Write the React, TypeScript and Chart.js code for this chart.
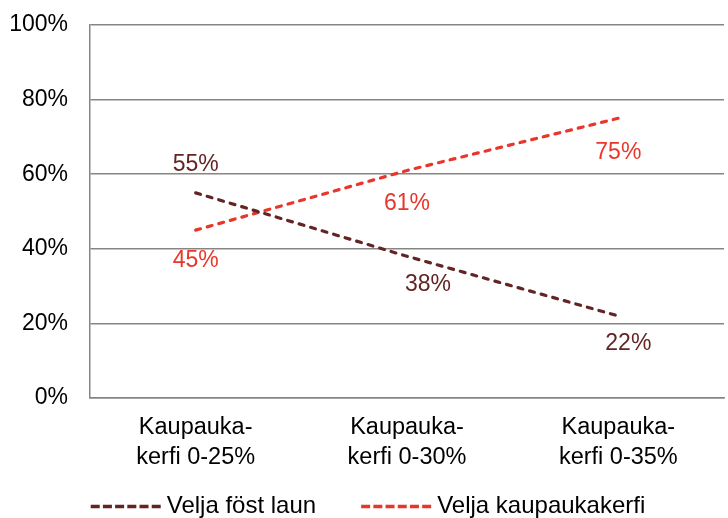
import React, { useEffect, useRef } from "react";
import { Chart, registerables } from "chart.js";

Chart.register(...registerables);

const categories: string[][] = [
  ["Kaupauka-", "kerfi 0-25%"],
  ["Kaupauka-", "kerfi 0-30%"],
  ["Kaupauka-", "kerfi 0-35%"],
];
const seriesNames = ["Velja föst laun", "Velja kaupaukakerfi"];
const fostLaun = [55, 38, 22];
const kaupaukakerfi = [45, 61, 75];
const yTicks = [0, 20, 40, 60, 80, 100];

const BROWN = "#632523";
const RED = "#E8372A";
const FONT = "'Liberation Sans', Arial, sans-serif";
const FS = 23;
const LEGEND_FS = 24;

// per-point label offsets (styling) [dx, dy] relative to the point
const LABEL_OFFSETS = [
  [[0, -28], [21, 28], [10, 28]],
  [[0, 31], [0, 33], [0, 34]],
];

const labelPlugin = {
  id: "valueLabels",
  afterDatasetsDraw(chart: any) {
    const ctx = chart.ctx;
    ctx.save();
    ctx.font = `${FS}px ${FONT}`;
    ctx.textAlign = "center";
    ctx.textBaseline = "middle";
    chart.data.datasets.forEach((ds: any, di: number) => {
      const meta = chart.getDatasetMeta(di);
      meta.data.forEach((pt: any, i: number) => {
        const [dx, dy] = LABEL_OFFSETS[di][i];
        ctx.fillStyle = ds.borderColor;
        ctx.fillText(ds.data[i] + "%", pt.x + dx, pt.y + dy);
      });
    });
    ctx.restore();
  },
};

const legendPlugin = {
  id: "customLegend",
  afterDraw(chart: any) {
    const ctx = chart.ctx;
    ctx.save();
    ctx.font = `${LEGEND_FS}px ${FONT}`;
    ctx.textBaseline = "middle";
    ctx.textAlign = "left";
    const lineW = 70;
    const gapText = 6;
    const gapItems = 45;
    const ds = chart.data.datasets;
    const widths = ds.map((d: any) => lineW + gapText + ctx.measureText(d.label).width);
    const total = widths.reduce((a: number, b: number) => a + b, 0) + gapItems * (ds.length - 1);
    let x = (chart.width - total) / 2 + 4;
    const y = 506;
    ds.forEach((d: any, i: number) => {
      ctx.strokeStyle = d.borderColor;
      ctx.lineWidth = 3.5;
      ctx.setLineDash([9, 3.2]);
      ctx.lineCap = "butt";
      ctx.beginPath();
      ctx.moveTo(x, y + 0.5);
      ctx.lineTo(x + lineW, y + 0.5);
      ctx.stroke();
      ctx.setLineDash([]);
      ctx.fillStyle = "#000";
      ctx.fillText(d.label, x + lineW + gapText, y);
      x += widths[i] + gapItems;
    });
    ctx.restore();
  },
};

export default function App() {
  const ref = useRef<HTMLCanvasElement | null>(null);
  useEffect(() => {
    if (!ref.current) return;
    const chart = new Chart(ref.current, {
      type: "line",
      data: {
        labels: categories as any,
        datasets: [
          {
            label: seriesNames[0],
            data: fostLaun,
            borderColor: BROWN,
            backgroundColor: BROWN,
            borderWidth: 3.2,
            borderDash: [5, 7],
            borderCapStyle: "round",
            pointRadius: 0,
            fill: false,
            tension: 0,
          },
          {
            label: seriesNames[1],
            data: kaupaukakerfi,
            borderColor: RED,
            backgroundColor: RED,
            borderWidth: 3.2,
            borderDash: [5, 7],
            borderCapStyle: "round",
            pointRadius: 0,
            fill: false,
            tension: 0,
          },
        ],
      },
      options: {
        animation: false,
        responsive: false,
        maintainAspectRatio: false,
        layout: { autoPadding: false, padding: { left: 8, right: 4, top: 25, bottom: 36 } },
        plugins: {
          tooltip: { enabled: false },
          legend: { display: false },
        },
        scales: {
          x: {
            offset: true,
            grid: { display: false, drawTicks: false, offset: true },
            border: { display: true, color: "#858585", width: 1.5 },
            ticks: {
              color: "#000",
              font: { family: FONT, size: 23.5, lineHeight: 1.25 },
              padding: 15,
              maxRotation: 0,
              autoSkip: false,
            },
            afterFit: (s: any) => {
              s.height = 84;
              s.paddingLeft = 0;
              s.paddingRight = 0;
            },
          },
          y: {
            min: 0,
            max: 100,
            afterBuildTicks: (s: any) => {
              s.ticks = yTicks.map((v) => ({ value: v }));
            },
            grid: { color: "#858585", lineWidth: 1.5, drawTicks: false },
            border: { display: true, color: "#858585", width: 1.5 },
            ticks: {
              color: "#000",
              font: { family: FONT, size: FS },
              padding: 22,
              callback: (v: any) => v + "%",
            },
            afterFit: (s: any) => {
              s.width = 82;
              s.paddingTop = 0;
              s.paddingBottom = 0;
            },
          },
        },
      },
      plugins: [labelPlugin, legendPlugin],
    } as any);
    return () => chart.destroy();
  }, []);
  return (
    <div style={{ position: "fixed", left: 0, top: 0, width: 728, height: 518, background: "#fff" }}>
      <canvas ref={ref} width={728} height={518} style={{ width: 728, height: 518, display: "block" }} />
    </div>
  );
}
